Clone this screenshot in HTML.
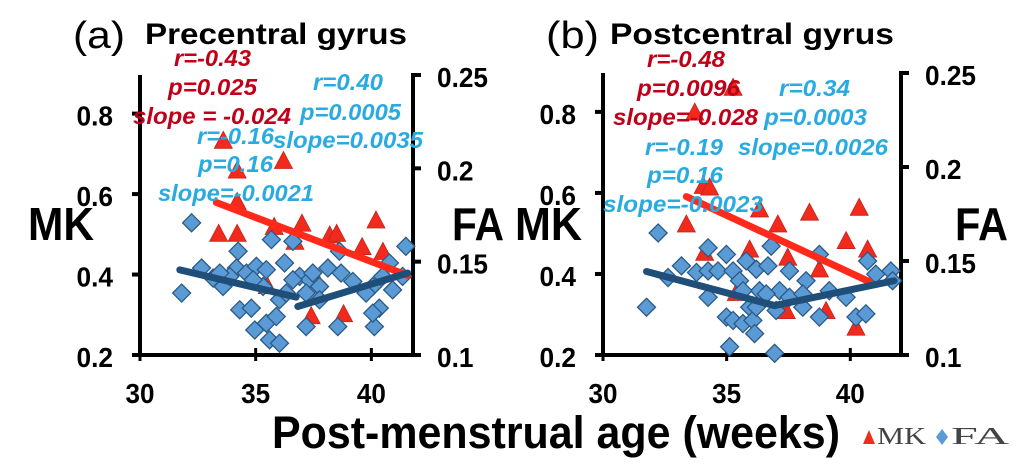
<!DOCTYPE html>
<html><head><meta charset="utf-8">
<style>
html,body{margin:0;padding:0;background:#fff;}
svg{display:block;font-family:"Liberation Sans",Arial,sans-serif;}
.tk{font-weight:bold;font-size:28px;fill:#000;}
.an{font-weight:bold;font-style:italic;font-size:23px;}
.red{fill:#c00018;}
.blu{fill:#29abe2;}
</style></head>
<body>
<svg id="chart" width="1034" height="476" viewBox="0 0 1034 476" xmlns="http://www.w3.org/2000/svg">
<g id="panels"></g>
<text x="272" y="448" font-size="45" font-weight="bold" textLength="568" lengthAdjust="spacingAndGlyphs">Post-menstrual age (weeks)</text>
<g>
<polygon points="863,444 875,444 869,430" fill="#f02a1e"/>
<text x="877" y="444" font-family="Liberation Serif,serif" font-size="24" fill="#444" textLength="49" lengthAdjust="spacingAndGlyphs">MK</text>
<polygon points="942,429 948,437 942,445 936,437" fill="#5b9bd5"/>
<text x="951" y="444" font-family="Liberation Serif,serif" font-size="24" fill="#444" textLength="58" lengthAdjust="spacingAndGlyphs">FA</text>
</g>
</svg>
<script>
// Panel (a) data
const aMkAge=[33.6,36.2,34.2,34.2,33.4,34.2,35.8,37.0,36.7,38.2,38.5,40.2,39.6,40.5,37.5,35.5,37.4,38.8];
const aMkVal=[0.731,0.681,0.657,0.579,0.50,0.50,0.517,0.525,0.48,0.496,0.50,0.533,0.467,0.455,0.40,0.37,0.295,0.30];
const aFaAge=[32.23,31.80,32.66,33.16,33.59,34.24,34.17,34.60,35.03,35.46,35.68,36.25,36.61,36.90,37.33,37.76,38.12,38.62,38.69,39.20,40.06,40.49,40.78,41.35,41.49,34.31,34.81,34.96,35.46,35.89,35.60,36.03,37.18,38.55,40.13,40.34,39.77,36.61,35.32,34.89,33.88,33.45,36.03,36.32,37.18,37.76,40.06,37.47,40.92];
const aFaVal=[0.1708,0.1332,0.1466,0.1412,0.1367,0.1556,0.1466,0.1439,0.1475,0.1457,0.1618,0.1493,0.1609,0.1421,0.1403,0.1367,0.1466,0.1556,0.1439,0.1394,0.1367,0.1421,0.1493,0.1421,0.1582,0.1242,0.1251,0.1134,0.1170,0.1206,0.1081,0.1063,0.1152,0.1152,0.1152,0.1251,0.1332,0.1403,0.1367,0.1403,0.1421,0.1439,0.1296,0.1332,0.1332,0.1296,0.1224,0.1439,0.1349];
const aMkFit=[33.3,0.579,41.56,0.398];
const aFaFit1=[31.72,0.1456,36.75,0.1310];
const aFaFit2=[36.82,0.1260,41.57,0.1439];
// Panel (b) data
const bMkAge=[35.26,33.71,34.05,34.31,33.37,36.33,37.07,38.35,40.36,39.83,40.70,35.93,34.11,37.47,38.75,35.39,37.41,39.02,40.23];
const bMkVal=[0.858,0.797,0.616,0.612,0.521,0.558,0.521,0.550,0.562,0.480,0.459,0.459,0.451,0.439,0.410,0.352,0.307,0.307,0.266];
const bFaAge=[32.23,31.76,32.63,33.17,33.78,34.25,34.25,34.25,34.65,34.99,35.26,35.52,35.79,36.20,36.67,36.80,36.33,35.93,35.66,34.99,35.26,35.66,36.06,36.13,35.12,36.94,37.54,37.14,37.54,38.08,38.21,38.75,38.75,39.15,39.83,40.23,40.63,40.70,41.03,41.64,41.71,36.20,36.60,37.00,38.08];
const bFaVal=[0.1649,0.1254,0.1412,0.1474,0.1439,0.1570,0.1447,0.1307,0.1447,0.1535,0.1447,0.1395,0.1500,0.1456,0.1474,0.1579,0.1342,0.1254,0.1342,0.1202,0.1184,0.1167,0.1184,0.1114,0.1044,0.1009,0.1447,0.1342,0.1307,0.1254,0.1395,0.1535,0.1202,0.1342,0.1307,0.1202,0.1219,0.1500,0.1430,0.1447,0.1395,0.1254,0.1325,0.1237,0.1325];
const bMkFit=[33.37,0.591,40.77,0.381];
const bFaFit1=[31.76,0.1444,36.94,0.1263];
const bFaFit2=[36.94,0.1263,41.77,0.1395];
const xTicks=[30,35,40];
const mkTicks=[0.2,0.4,0.6,0.8];
const faTicks=[0.1,0.15,0.2,0.25];

const NS='http://www.w3.org/2000/svg';
const root=document.getElementById('panels');
function mk(tag,attrs,parent){const e=document.createElementNS(NS,tag);for(const k in attrs)e.setAttribute(k,attrs[k]);(parent||root).appendChild(e);return e;}
function tw(s){let w=0;for(const c of s)w+=(c==='.'?7.5:14.5);return w;}

function panel(id,cfg){
  const g=mk('g',{});
  
  
  const L=cfg.L,R=cfg.R,T=cfg.T,B=cfg.B;
  const x=a=>L+(a-30)/(cfg.xmax-30)*(R-L);
  const yM=v=>B-(v-0.2)/(cfg.mkTop-0.2)*(B-T);
  const yF=v=>B-(v-0.1)/(0.25-0.1)*(B-cfg.faTopY);
  const ax=mk('path',{d:`M${L},${T}V${B}H${R}V${T-2}`,fill:'none',stroke:'#000','stroke-width':4},g);
  
  
  mkTicks.forEach(t=>{mk('line',{x1:L-8,x2:L,y1:yM(t),y2:yM(t),stroke:'#000','stroke-width':4},g);
    const s=String(t);
    const tx=mk('text',{x:L-27,y:yM(t)+12,'text-anchor':'end',class:'tk',textLength:tw(s),lengthAdjust:'spacingAndGlyphs'},g);tx.textContent=s;
    
    });
  faTicks.forEach(t=>{mk('line',{x1:R,x2:R+8,y1:yF(t),y2:yF(t),stroke:'#000','stroke-width':4},g);
    const s=String(t);
    const tx=mk('text',{x:R+24,y:yF(t)+12,class:'tk',textLength:tw(s),lengthAdjust:'spacingAndGlyphs'},g);tx.textContent=s;
    
    });
  xTicks.forEach(t=>{mk('line',{x1:x(t),x2:x(t),y1:B-7,y2:B+6,stroke:'#000','stroke-width':3},g);
    const s=String(t);
    const tx=mk('text',{x:x(t),y:B+48,'text-anchor':'middle',class:'tk',textLength:tw(s),lengthAdjust:'spacingAndGlyphs'},g);tx.textContent=s;
    
    });
  cfg.mkAge.forEach((a,i)=>{const cx=x(a),cy=yM(cfg.mkVal[i]);
    const p=mk('polygon',{points:`${cx-9},${cy+7} ${cx+9},${cy+7} ${cx},${cy-10}`,fill:'#f22a1e',stroke:'#c42418','stroke-width':0.8},g);
    
    });
  cfg.faAge.forEach((a,i)=>{const cx=x(a),cy=yF(cfg.faVal[i]);
    const p=mk('polygon',{points:`${cx},${cy-9} ${cx+9},${cy} ${cx},${cy+9} ${cx-9},${cy}`,fill:'#5b9bd5',stroke:'#2c5a85','stroke-width':1.3},g);
    
    });
  const rf=cfg.mkFit;
  const l1=mk('line',{x1:x(rf[0]),y1:yM(rf[1]),x2:x(rf[2]),y2:yM(rf[3]),stroke:'#ff2a1a','stroke-width':7,'stroke-linecap':'round'},g);
  
  
  [cfg.faFit1,cfg.faFit2].forEach(f=>{
    const l=mk('line',{x1:x(f[0]),y1:yF(f[1]),x2:x(f[2]),y2:yF(f[3]),stroke:'#1f4e79','stroke-width':7,'stroke-linecap':'round'},g);
    
    });
  cfg.texts.forEach(t=>{const e=mk('text',{x:t[0],y:t[1],class:t[3],textLength:t[4],lengthAdjust:'spacingAndGlyphs'},g);e.textContent=t[2];
    if(t[5])e.setAttribute('style',t[5]);
    
    });
}
const bigS='font-size:46px;font-weight:bold;fill:#000';
const ttlS='font-size:30px;font-weight:bold;fill:#000';
const parS='font-size:38px;fill:#000';
panel('panel-a',{L:140,R:413,T:75,B:355,xmax:41.8,mkTop:0.896,faTopY:75,
 mkAge:aMkAge,mkVal:aMkVal,faAge:aFaAge,faVal:aFaVal,mkFit:aMkFit,faFit1:aFaFit1,faFit2:aFaFit2,
 texts:[[73,48,'(a)','',52,parS,'panel-label'],[145,44,'Precentral gyrus','',262,ttlS,'panel-title'],
 [28,240,'MK','',66,bigS,'mk-axis-title'],[452,240,'FA','',52,bigS,'fa-axis-title'],
 [174,66,'r=-0.43','an red',77],[168,95,'p=0.025','an red',89],[133,124,'slope = -0.024','an red',158],
 [313,90,'r=0.40','an blu',70],[300,120,'p=0.0005','an blu',101],[273,148,'slope=0.0035','an blu',150],
 [197,144,'r=-0.16','an blu',77],[198,172,'p=0.16','an blu',75],[158,201,'slope=-0.0021','an blu',156]]});
panel('panel-b',{L:603,R:901,T:73,B:355,xmax:42.05,mkTop:0.896,faTopY:73,
 mkAge:bMkAge,mkVal:bMkVal,faAge:bFaAge,faVal:bFaVal,mkFit:bMkFit,faFit1:bFaFit1,faFit2:bFaFit2,
 texts:[[546,48,'(b)','',53,parS,'panel-label'],[610,44,'Postcentral gyrus','',284,ttlS,'panel-title'],
 [515,240,'MK','',67,bigS,'mk-axis-title'],[955,240,'FA','',53,bigS,'fa-axis-title'],
 [647,67,'r=-0.48','an red',78],[637,96,'p=0.0096','an red',103],[613,125,'slope=-0.028','an red',145],
 [779,96,'r=0.34','an blu',71],[764,125,'p=0.0003','an blu',103],[738,155,'slope=0.0026','an blu',150],
 [645,155,'r=-0.19','an blu',78],[647,183,'p=0.16','an blu',76],[603,212,'slope=-0.0023','an blu',160]]});
</script>
</body></html>
